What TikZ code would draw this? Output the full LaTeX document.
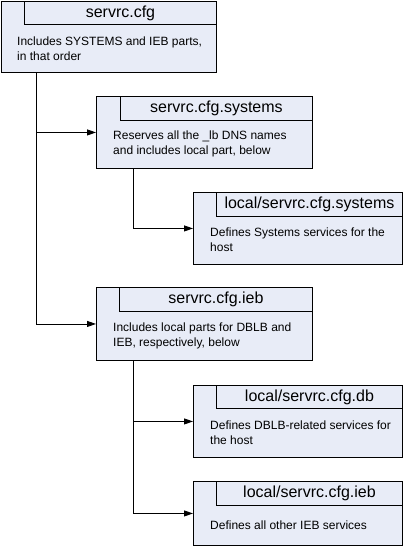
\documentclass[tikz,border=0pt]{standalone}
\usepackage{fontspec}
\setmainfont{Liberation Sans}
\usetikzlibrary{calc,arrows.meta}
\definecolor{boxfill}{RGB}{232,236,247}
\tikzset{
  box/.style={draw=black, fill=boxfill, line width=0.9pt, inner sep=0pt, anchor=north west},
  titlebox/.style={draw=black, fill=boxfill, line width=0.9pt, inner sep=0pt, anchor=north east, minimum height=23pt,
    font=\fontsize{16}{18}\selectfont},
  body/.style={anchor=west, inner sep=0pt, align=left, font=\fontsize{12}{15}\selectfont},
  conn/.style={draw=black, line width=0.9pt, -{Triangle[length=9pt,width=6pt]}},
  trunk/.style={draw=black, line width=0.9pt}
}
\begin{document}
\begin{tikzpicture}[x=1pt,y=-1pt]
\useasboundingbox (0,0) rectangle (409,553);
% box 1
\node[box, minimum width=215pt, minimum height=71pt] (b1) at (1,1) {};
\node[titlebox, minimum width=192pt] (t1) at (b1.north east) {servrc.cfg};
\node[body] (d1) at (17,48.5) {Includes SYSTEMS and IEB parts,\\in that order};
% box 2
\node[box, minimum width=216pt, minimum height=72pt] (b2) at (96,96) {};
\node[titlebox, minimum width=192pt, minimum height=24pt] (t2) at (b2.north east) {servrc.cfg.systems};
\node[body] (d2) at (113,144) {Reserves all the \_lb DNS names\\and includes local part, below};
% box 3
\node[box, minimum width=209pt, minimum height=72pt] (b3) at (193,192) {};
\node[titlebox, minimum width=186pt, minimum height=24pt] (t3) at (b3.north east) {local/servrc.cfg.systems};
\node[body] (d3) at (210,240) {Defines Systems services for the\\host};
% box 4
\node[box, minimum width=216pt, minimum height=73pt] (b4) at (96,287) {};
\node[titlebox, minimum width=193pt, minimum height=24pt] (t4) at (b4.north east) {servrc.cfg.ieb};
\node[body] (d4) at (113,335.5) {Includes local parts for DBLB and\\IEB, respectively, below};
% box 5
\node[box, minimum width=209pt, minimum height=72pt] (b5) at (193,385) {};
\node[titlebox, minimum width=186pt, minimum height=23pt] (t5) at (b5.north east) {local/servrc.cfg.db};
\node[body] (d5) at (210,432.5) {Defines DBLB-related services for\\the host};
% box 6
\node[box, minimum width=209pt, minimum height=64pt] (b6) at (193,481) {};
\node[titlebox, minimum width=186pt, minimum height=24pt] (t6) at (b6.north east) {local/servrc.cfg.ieb};
\node[body] (d6) at (210,525) {Defines all other IEB services};
% connectors
\coordinate (s1) at ($(b1.south west)+(35,0)$);
\coordinate (s2) at ($(b2.south west)+(37,0)$);
\coordinate (s4) at ($(b4.south west)+(37,0)$);
\draw[conn] (s1) |- (b2.west);
\draw[conn] (s1) |- (b4.west);
\draw[conn] (s2) |- (b3.west);
\draw[conn] (s4) |- (b5.west);
\draw[conn] (s4) |- (b6.west);
\end{tikzpicture}
\end{document}
